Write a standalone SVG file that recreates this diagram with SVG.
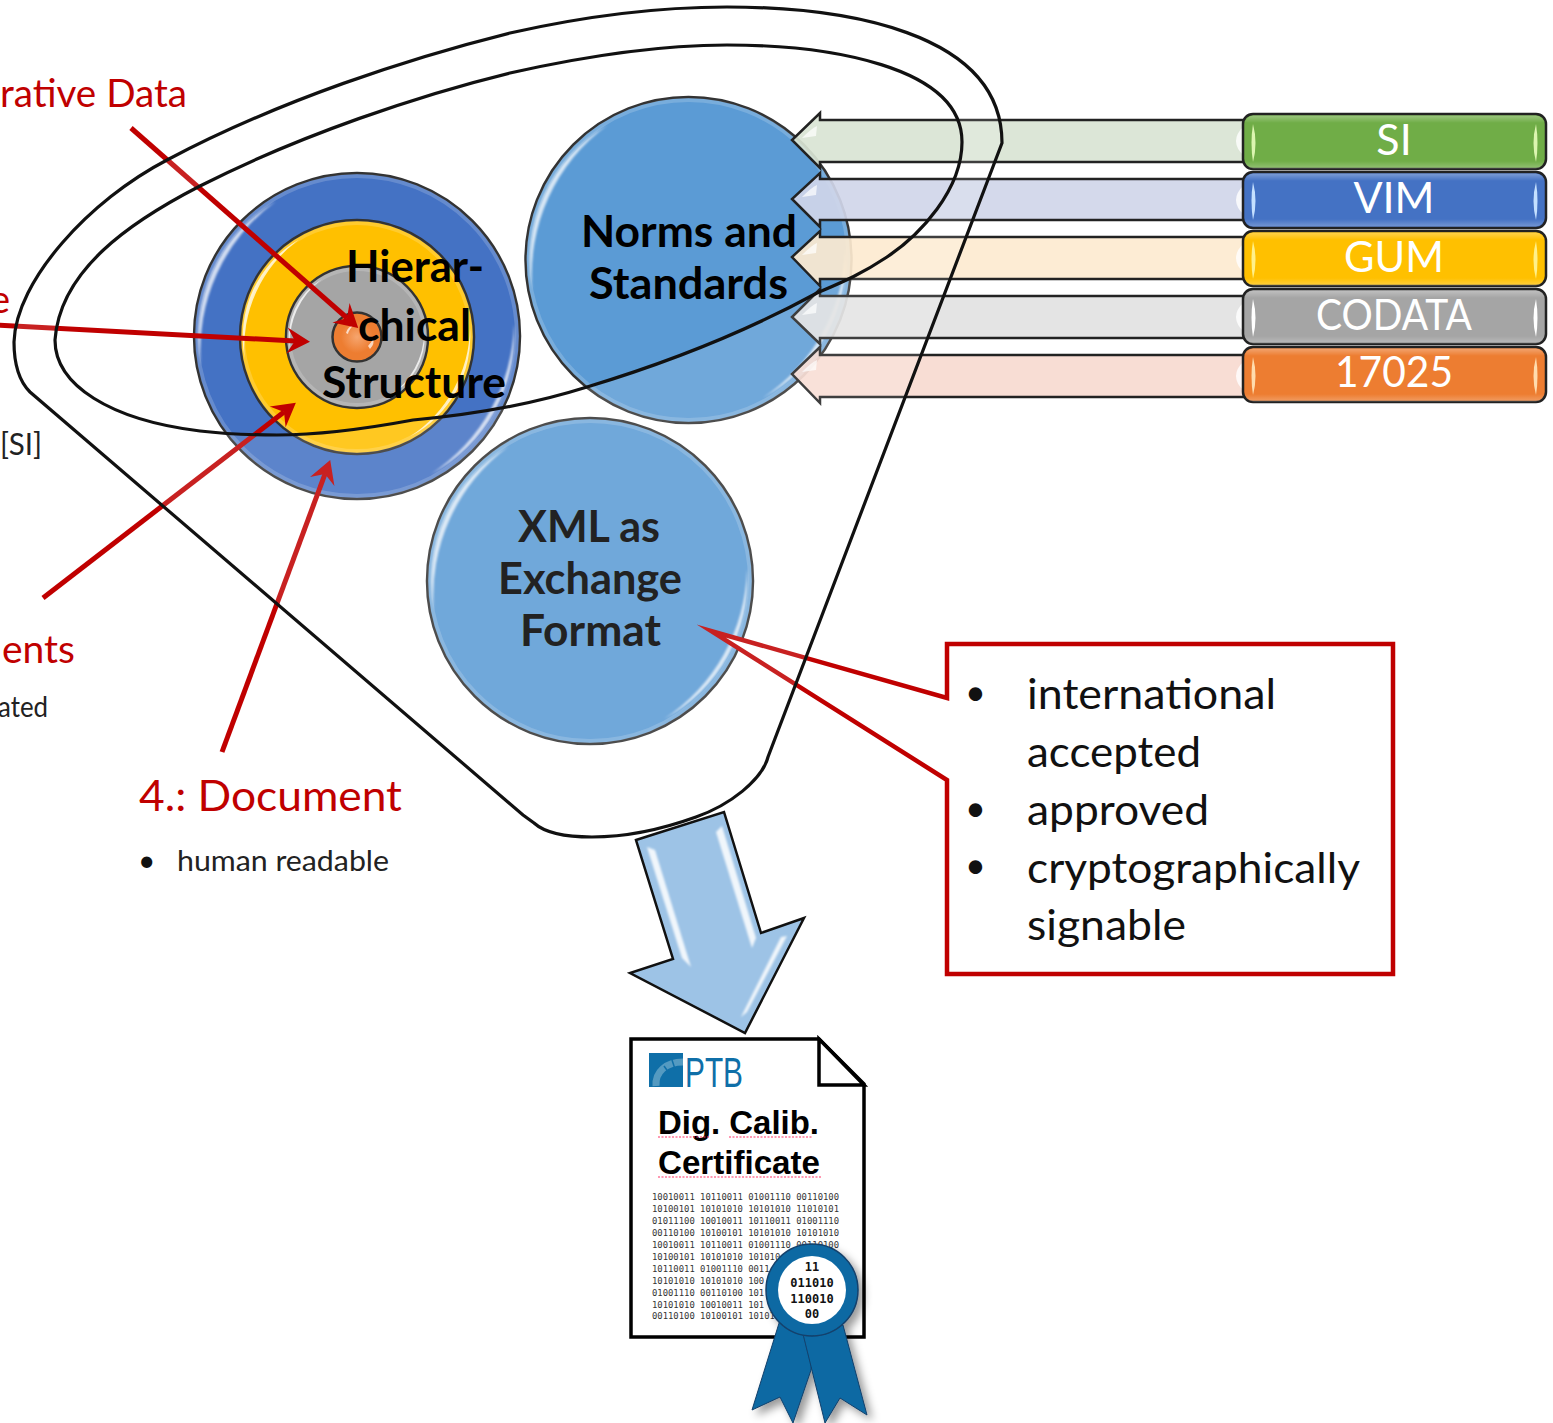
<svg xmlns="http://www.w3.org/2000/svg" xmlns:xlink="http://www.w3.org/1999/xlink" width="1553" height="1423" viewBox="0 0 1553 1423">
<style>
text{font-family:Lato,"Liberation Sans",sans-serif}
.red{fill:#C00000}
.rl{fill:none;stroke:#C00000;stroke-width:5;marker-end:url(#head)}
.disc{stroke:#333;stroke-width:2.5}
.gl{fill:#fff;fill-opacity:.75;filter:url(#b1)}
.rim{fill:none;stroke:#fff;stroke-opacity:.18;stroke-width:4}
.big{font-size:43px;font-weight:700;text-anchor:middle}
.lab{font-size:43px;fill:#fff;text-anchor:middle}
.lst{font-size:43px;fill:#111}
.arr{stroke:none}
.edge{fill:none;stroke:#222;stroke-width:2.5;stroke-linejoin:miter}
.box{stroke:#222;stroke-width:2.5}
.bit{font-family:"DejaVu Sans Mono",monospace;font-size:8.9px;fill:#333}
.seal{font-family:"DejaVu Sans Mono",monospace;font-size:12px;font-weight:700;fill:#111;text-anchor:middle}
.dig{font-family:"Liberation Sans",Arial,sans-serif;font-size:33px;font-weight:700;fill:#000}
.sq{stroke:#f36;stroke-width:1.2;stroke-dasharray:2 1.5;fill:none}
.hl{fill:#fff;fill-opacity:.85;filter:url(#b1)}
</style>
<defs>
<filter id="b1" x="-30%" y="-30%" width="160%" height="160%"><feGaussianBlur stdDeviation="1"/></filter>
<filter id="sh" x="-30%" y="-30%" width="170%" height="170%"><feDropShadow dx="5" dy="5" stdDeviation="4" flood-color="#000" flood-opacity=".4"/></filter>
<marker id="head" markerUnits="userSpaceOnUse" markerWidth="24" markerHeight="28" viewBox="0 -14 24 28" refX="8" refY="0" orient="auto"><path d="M0,-13 L23,0 L0,13 L8,0Z" fill="#C00000"/></marker>
<g id="gloss"><path class="gl" d="M-81,-135A157,157 0 0 0 -156,30A185,185 0 0 1 -81,-135Z"/><path class="gl" d="M74,138A157,157 0 0 0 157,-12A185,185 0 0 1 74,138Z"/></g>
<g id="bgl"><rect x="1.5" y="1.5" width="300" height="53" rx="9" fill="url(#bsh)"/><path d="M10,10Q15,29 10,48Q7,29 10,10Z" fill="currentColor"/><path d="M293,10Q288,29 293,48Q296,29 293,10Z" fill="currentColor"/></g>
<linearGradient id="bsh" x1="0" y1="0" x2="0" y2="1"><stop offset="0" stop-color="#fff" stop-opacity=".3"/><stop offset=".14" stop-color="#fff" stop-opacity="0"/><stop offset=".86" stop-color="#fff" stop-opacity="0"/><stop offset="1" stop-color="#fff" stop-opacity=".25"/></linearGradient>
<radialGradient id="org" cx=".5" cy=".5" r=".55"><stop offset="0" stop-color="#f6a56e"/><stop offset=".6" stop-color="#ED7D31"/><stop offset="1" stop-color="#ED7D31"/></radialGradient>
</defs>

<g id="hierarchy-discs">
<circle class="disc" cx="357" cy="336" r="163" fill="#4472C4"/><circle class="rim" cx="357" cy="336" r="160"/><use href="#gloss" transform="translate(357,336)"/>
<circle class="disc" cx="357" cy="337" r="117" fill="#FFC000"/><circle class="rim" cx="357" cy="337" r="114"/><use href="#gloss" transform="translate(357,337) scale(.72)"/>
<circle class="disc" cx="357" cy="337" r="71" fill="#A5A5A5"/><circle class="rim" cx="357" cy="337" r="68"/><use href="#gloss" transform="translate(357,337) scale(.43)"/>
<circle class="disc" cx="357" cy="337" r="24.5" fill="url(#org)"/><path d="M346,333Q348,326 354,325Q349,329 348,334Z" fill="#fff" fill-opacity=".7"/><path d="M368,346Q372,342 373,338Q375,344 370,349Z" fill="#fff" fill-opacity=".7"/>
</g>
<g id="norms-circle"><circle class="disc" cx="688.5" cy="260" r="163" fill="#5B9BD5"/><circle class="rim" cx="688.5" cy="260" r="160"/><use href="#gloss" transform="translate(688.5,260)"/></g>
<g id="xml-circle"><circle class="disc" cx="590" cy="581" r="163" fill="#5B9BD5"/><circle class="rim" cx="590" cy="581" r="160"/><use href="#gloss" transform="translate(590,581)"/></g>

<g id="arrow-si"><path class="arr" fill="#D9E4D4" fill-opacity=".92" d="M792,140L820,113V120H1244V162H820V168Z"/><path class="edge" d="M1244,120H820V113L792,140L820,168V162H1244"/><path d="M1244,126Q1228,141 1244,156Z" fill="#fff" fill-opacity=".8"/><path d="M802,138Q812,128 817,126L816,136Z" fill="#fff" fill-opacity=".7"/></g>
<g id="arrow-vim"><path class="arr" fill="#D0D6E9" fill-opacity=".92" d="M792,199L820,173V179H1244V220H820V227Z"/><path class="edge" d="M1244,179H820V173L792,199L820,227V220H1244"/><path d="M1244,185Q1228,200 1244,215Z" fill="#fff" fill-opacity=".8"/><path d="M802,197Q812,187 817,185L816,195Z" fill="#fff" fill-opacity=".7"/></g>
<g id="arrow-gum"><path class="arr" fill="#FDEAD0" fill-opacity=".92" d="M792,257L820,231V237H1244V279H820V286Z"/><path class="edge" d="M1244,237H820V231L792,257L820,286V279H1244"/><path d="M1244,243Q1228,258 1244,273Z" fill="#fff" fill-opacity=".8"/><path d="M802,255Q812,245 817,243L816,253Z" fill="#fff" fill-opacity=".7"/></g>
<g id="arrow-codata"><path class="arr" fill="#E2E2E2" fill-opacity=".92" d="M792,317L820,289V296H1244V338H820V344Z"/><path class="edge" d="M1244,296H820V289L792,317L820,344V338H1244"/><path d="M1244,302Q1228,317 1244,332Z" fill="#fff" fill-opacity=".8"/><path d="M802,315Q812,305 817,303L816,313Z" fill="#fff" fill-opacity=".7"/></g>
<g id="arrow-17025"><path class="arr" fill="#F7DAD0" fill-opacity=".92" d="M792,374L820,347V355H1244V397H820V403Z"/><path class="edge" d="M1244,355H820V347L792,374L820,403V397H1244"/><path d="M1244,361Q1228,376 1244,391Z" fill="#fff" fill-opacity=".8"/><path d="M802,372Q812,362 817,360L816,370Z" fill="#fff" fill-opacity=".7"/></g>

<g id="connectors">
<path class="rl" d="M131,128L347,318"/>
<path class="rl" d="M-5,325L295,341"/>
<path class="rl" d="M43,598L284,412"/>
<path class="rl" d="M222,752L325,474"/>
</g>

<g id="callout">
<path d="M947,644H1393V974H947V780L711,631L947,698Z" fill="#fff" stroke="#C00000" stroke-width="4.5" stroke-miterlimit="12"/>
<text class="lst" x="965" y="705" style="font-size:36px">•</text><text class="lst" x="1027" y="709" textLength="249" lengthAdjust="spacingAndGlyphs">international</text>
<text class="lst" x="1027" y="767" textLength="174" lengthAdjust="spacingAndGlyphs">accepted</text>
<text class="lst" x="965" y="821" style="font-size:36px">•</text><text class="lst" x="1027" y="825" textLength="182" lengthAdjust="spacingAndGlyphs">approved</text>
<text class="lst" x="965" y="878" style="font-size:36px">•</text><text class="lst" x="1027" y="883" textLength="333" lengthAdjust="spacingAndGlyphs">cryptographically</text>
<text class="lst" x="1027" y="940" textLength="159" lengthAdjust="spacingAndGlyphs">signable</text>
</g>

<g id="funnel">
<path fill="#fff" fill-opacity=".13" fill-rule="evenodd" d="M30,392C18,380 14,360 14,342C16,280 90,200 167,160C280,100 410,58 510,33C590,15 660,7 727,7C840,7 1002,30 1002,143L768,757C762,780 730,805 696,817C660,830 625,837 592,837C565,837 545,833 534,823L523,815ZM55,340C60,270 130,222 200,186C300,135 420,95 510,73C590,55 660,45 727,45C825,45 962,65 962,142C962,190 920,235 887,257C860,275 840,283 817,293C740,335 660,365 587,387C530,405 470,415 413,420C370,428 320,435 277,435C250,435 225,434 200,431C110,420 55,385 55,340Z"/>
<path fill="none" stroke="#111" stroke-width="3.2" d="M30,392C18,380 14,360 14,342C16,280 90,200 167,160C280,100 410,58 510,33C590,15 660,7 727,7C840,7 1002,30 1002,143L768,757C762,780 730,805 696,817C660,830 625,837 592,837C565,837 545,833 534,823L523,815Z"/>
<path fill="none" stroke="#111" stroke-width="3.2" d="M55,340C60,270 130,222 200,186C300,135 420,95 510,73C590,55 660,45 727,45C825,45 962,65 962,142C962,190 920,235 887,257C860,275 840,283 817,293C740,335 660,365 587,387C530,405 470,415 413,420C370,428 320,435 277,435C250,435 225,434 200,431C110,420 55,385 55,340Z"/>
</g>

<g id="hierarchy-label" fill="#000">
<text class="big" x="415" y="282" textLength="138" lengthAdjust="spacingAndGlyphs">Hierar-</text>
<text class="big" x="414.500" y="341" textLength="113" lengthAdjust="spacingAndGlyphs">chical</text>
<text class="big" x="414" y="398" textLength="184" lengthAdjust="spacingAndGlyphs">Structure</text>
</g>
<g id="norms-label" fill="#000">
<text class="big" x="689" y="247" textLength="216" lengthAdjust="spacingAndGlyphs">Norms and</text>
<text class="big" x="688.500" y="299" textLength="199" lengthAdjust="spacingAndGlyphs">Standards</text>
</g>
<g id="xml-label" fill="#222">
<text class="big" x="589" y="542" textLength="142" lengthAdjust="spacingAndGlyphs">XML as</text>
<text class="big" x="590" y="594" textLength="184" lengthAdjust="spacingAndGlyphs">Exchange</text>
<text class="big" x="590.500" y="646" textLength="141" lengthAdjust="spacingAndGlyphs">Format</text>
</g>

<g id="box-si" color="#dcf5b0"><rect class="box" x="1243" y="114" width="303" height="55" rx="10" fill="#70AD47"/><use href="#bgl" transform="translate(1243,114)"/><text class="lab" x="1394" y="155">SI</text></g>
<g id="box-vim" color="#c4e0ff"><rect class="box" x="1243" y="172" width="303" height="56" rx="10" fill="#4472C4"/><use href="#bgl" transform="translate(1243,172)"/><text class="lab" x="1394" y="213">VIM</text></g>
<g id="box-gum" color="#fff08a"><rect class="box" x="1243" y="231" width="303" height="55" rx="10" fill="#FFC000"/><use href="#bgl" transform="translate(1243,231)"/><text class="lab" x="1394" y="272" textLength="100" lengthAdjust="spacingAndGlyphs">GUM</text></g>
<g id="box-codata" color="#ffffff"><rect class="box" x="1243" y="289" width="303" height="55" rx="10" fill="#A5A5A5"/><use href="#bgl" transform="translate(1243,289)"/><text class="lab" x="1394" y="330" textLength="156" lengthAdjust="spacingAndGlyphs">CODATA</text></g>
<g id="box-17025" color="#ffdcae"><rect class="box" x="1243" y="347" width="303" height="55" rx="10" fill="#ED7D31"/><use href="#bgl" transform="translate(1243,347)"/><text class="lab" x="1394" y="387" textLength="118" lengthAdjust="spacingAndGlyphs">17025</text></g>

<g id="side-labels">
<text class="red" x="0" y="107" font-size="38" textLength="187" lengthAdjust="spacingAndGlyphs">rative Data</text>
<text class="red" x="-10" y="313" font-size="38">e</text>
<text x="0" y="455" font-size="31" fill="#222" textLength="42" lengthAdjust="spacingAndGlyphs">[SI]</text>
<text class="red" x="2" y="663" font-size="38" textLength="73" lengthAdjust="spacingAndGlyphs">ents</text>
<text x="-2" y="717" font-size="29" fill="#222" textLength="50" lengthAdjust="spacingAndGlyphs">ated</text>
<text class="red" x="139" y="811" font-size="43" textLength="263" lengthAdjust="spacingAndGlyphs">4.: Document</text>
<text x="138" y="871" font-size="30" fill="#111">•</text>
<text x="177" y="871" font-size="29" fill="#222" textLength="212" lengthAdjust="spacingAndGlyphs">human readable</text>
</g>

<g id="output-arrow">
<path d="M636,840L724,812L761,933L804,918L745,1033L630,973L673,959Z" fill="#9DC3E6" stroke="#111" stroke-width="2.5" stroke-linejoin="miter"/>
<path class="hl" d="M647,847L655,850L691,967L682,958Z"/><path class="hl" d="M716,832L722,826L756,938L752,948Z"/><path class="hl" d="M781,937L787,936L747,1012L741,1017Z"/>
</g>

<g id="certificate">
<path d="M631,1039H819L864,1084V1337H631Z" fill="#fff" stroke="#000" stroke-width="3.5"/>
<path d="M819,1039V1085H864Z" fill="#fff" stroke="#000" stroke-width="3.5"/>
<rect x="649" y="1053" width="34" height="34" fill="#0F6FA8"/>
<path d="M656,1086C655,1072 666,1062 683,1062" fill="none" stroke="#a8cfe0" stroke-width="7" stroke-opacity=".45"/>
<path d="M664,1066L669,1073M672,1060L675,1069" stroke="#0F6FA8" stroke-width="1.500" fill="none"/>
<text x="685" y="1087" font-size="43" fill="#0F6FA8" style="font-family:'Liberation Sans',Arial,sans-serif" textLength="58" lengthAdjust="spacingAndGlyphs">PTB</text>
<text class="dig" x="658" y="1134" textLength="161" lengthAdjust="spacingAndGlyphs">Dig. Calib.</text>
<text class="dig" x="658" y="1174" textLength="162" lengthAdjust="spacingAndGlyphs">Certificate</text>
<path class="sq" d="M658,1137H710M729,1137H812M658,1177H821"/>
<text class="bit" x="652" y="1200">10010011 10110011 01001110 00110100</text>
<text class="bit" x="652" y="1212">10100101 10101010 10101010 11010101</text>
<text class="bit" x="652" y="1224">01011100 10010011 10110011 01001110</text>
<text class="bit" x="652" y="1236">00110100 10100101 10101010 10101010</text>
<text class="bit" x="652" y="1248">10010011 10110011 01001110 00110100</text>
<text class="bit" x="652" y="1259.500">10100101 10101010 101010</text>
<text class="bit" x="652" y="1271.500">10110011 01001110 0011</text>
<text class="bit" x="652" y="1283.500">10101010 10101010 100</text>
<text class="bit" x="652" y="1295.500">01001110 00110100 101</text>
<text class="bit" x="652" y="1307.500">10101010 10010011 101</text>
<text class="bit" x="652" y="1319">00110100 10100101 10101</text>
</g>
<g id="seal">
<g filter="url(#sh)">
<path d="M780,1320L752,1410L780,1397L793,1423L811,1370L815,1330Z" fill="#0A69A3" stroke="#14406b" stroke-width="1"/>
<path d="M802,1330L825,1423L840,1398L867,1415L843,1325Z" fill="#0A69A3" stroke="#14406b" stroke-width="1"/>
<circle cx="812" cy="1290" r="46" fill="#0A69A3" stroke="#14406b" stroke-width="1.500"/>
</g>
<circle cx="812" cy="1290" r="34" fill="#fff"/>
<text class="seal" x="812" y="1271">11</text>
<text class="seal" x="812" y="1287">011010</text>
<text class="seal" x="812" y="1303">110010</text>
<text class="seal" x="812" y="1318">00</text>
</g>
</svg>
